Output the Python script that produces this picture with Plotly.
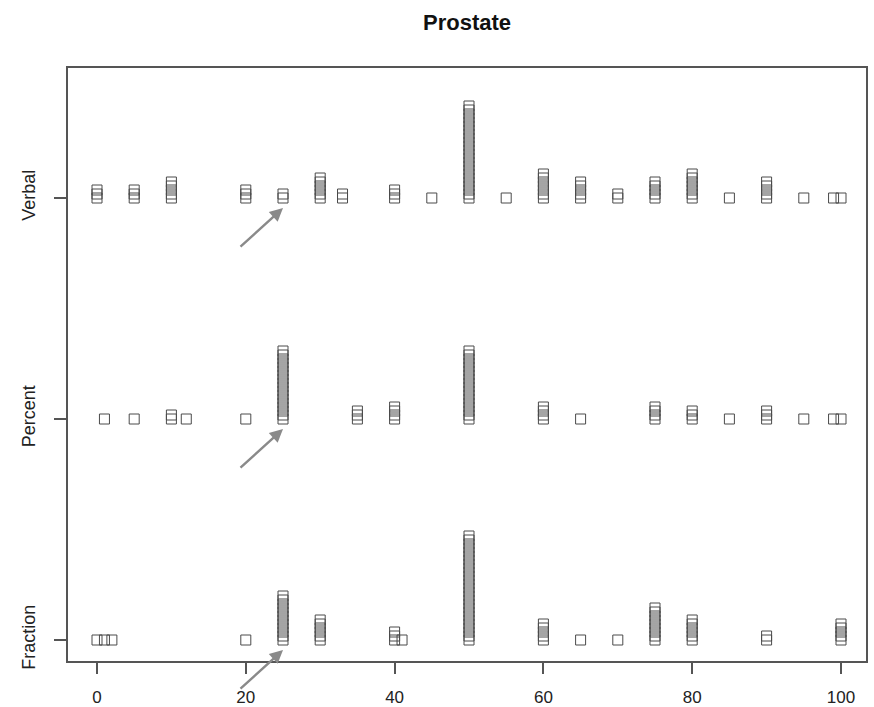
import plotly.graph_objects as go

# ---- data (value, count of responses stacked at that value) ----
row_labels = ["Fraction", "Percent", "Verbal"]

verbal_values = [0, 5, 10, 20, 25, 30, 33, 40, 45, 50, 55, 60, 65, 70, 75, 80, 85, 90, 95, 99, 100]
verbal_counts = [3, 3, 5, 3, 2, 6, 2, 3, 1, 24, 1, 7, 5, 2, 5, 7, 1, 5, 1, 1, 1]

percent_values = [1, 5, 10, 12, 20, 25, 35, 40, 50, 60, 65, 75, 80, 85, 90, 95, 99, 100]
percent_counts = [1, 1, 2, 1, 1, 18, 3, 4, 18, 4, 1, 4, 3, 1, 3, 1, 1, 1]

fraction_values = [0, 1, 2, 20, 25, 30, 40, 41, 50, 60, 65, 70, 75, 80, 90, 100]
fraction_counts = [1, 1, 1, 1, 12, 6, 3, 1, 27, 5, 1, 1, 9, 6, 2, 5]

x_ticks = [0, 20, 40, 60, 80, 100]
highlight_value = 25  # value pointed at by the arrows

rows = [(1, fraction_values, fraction_counts),
        (2, percent_values, percent_counts),
        (3, verbal_values, verbal_counts)]

# ---- layout constants ----
W, H = 874, 707
ml, mr, mt, mb = 68, 8, 68, 46
px_per_x = 7.44
x0 = -29 / px_per_x
x1 = x0 + (W - ml - mr) / px_per_x
px_per_y = 221.0
y0 = 1 - 21 / px_per_y
y1 = y0 + (H - mt - mb) / px_per_y
stack_step = 4.0 / px_per_y

fig = go.Figure()
for level, vals, cnts in rows:
    xs, ys = [], []
    for v, c in zip(vals, cnts):
        for k in range(c):
            xs.append(v)
            ys.append(level + k * stack_step)
    fig.add_trace(go.Scatter(
        x=xs, y=ys, mode="markers", showlegend=False, hoverinfo="skip",
        marker=dict(symbol="square-open", size=10, color="#4a4a4a",
                    line=dict(width=1.0, color="#4a4a4a")),
        cliponaxis=False,
    ))

annotations = []
for level, _, _ in rows:
    annotations.append(dict(
        x=highlight_value, y=level - 10 / px_per_y, xref="x", yref="y",
        ax=-44, ay=40, axref="pixel", ayref="pixel",
        showarrow=True, arrowhead=2, arrowsize=1.1, arrowwidth=2.4,
        arrowcolor="#8a8a8a", text="",
    ))

fig.update_layout(
    width=W, height=H,
    margin=dict(l=ml, r=mr, t=mt, b=mb, autoexpand=False),
    paper_bgcolor="white", plot_bgcolor="white",
    title=dict(text="<b>Prostate</b>", x=0.5, xref="paper", xanchor="center",
               y=1 - 22 / H, yref="container", yanchor="middle",
               font=dict(family="Liberation Sans, Arial, sans-serif", size=22, color="#111")),
    font=dict(family="Liberation Sans, Arial, sans-serif", size=17, color="#222"),
    annotations=annotations,
)
fig.update_xaxes(
    range=[x0, x1], tickvals=x_ticks, ticktext=[str(t) for t in x_ticks],
    showgrid=False, zeroline=False, showline=True, mirror=True, automargin=False,
    linecolor="#555", linewidth=1.6, ticks="outside", ticklen=11,
    tickcolor="#555", tickwidth=1.6, ticklabelstandoff=9,
    tickfont=dict(size=17, color="#222"),
)
fig.update_yaxes(
    range=[y0, y1], tickvals=[1, 2, 3], ticktext=row_labels, tickangle=-90,
    showgrid=False, zeroline=False, showline=True, mirror=True, automargin=False,
    linecolor="#555", linewidth=1.6, ticks="outside", ticklen=12,
    tickcolor="#555", tickwidth=1.6, ticklabelstandoff=12,
    tickfont=dict(size=18, color="#222"),
)

fig.write_html("out.html")
